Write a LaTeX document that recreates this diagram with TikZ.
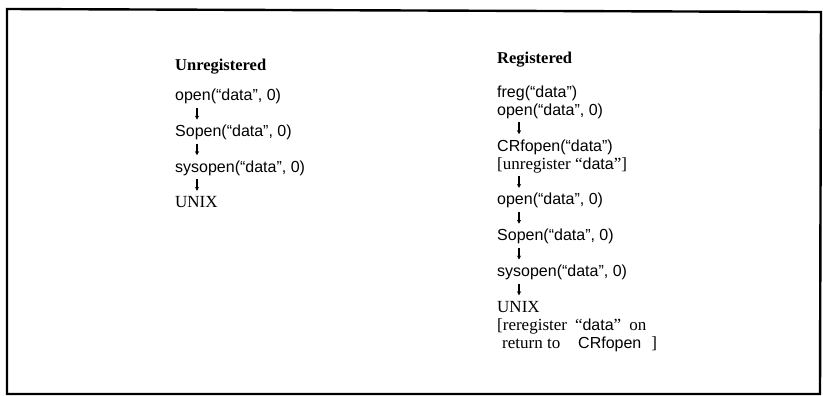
\documentclass[tikz,border=0pt]{standalone}
\usepackage{fontspec}
\setmainfont{Liberation Serif}
\setsansfont{Liberation Sans}
\usetikzlibrary{arrows.meta}
\newcommand{\sfname}[1]{{\sffamily\fontsize{16}{18}\selectfont #1}}
\begin{document}
\begin{tikzpicture}[x=1pt,y=-1pt,
  code/.style={anchor=base west, inner sep=0pt, font=\sffamily\fontsize{16}{18}\selectfont},
  prose/.style={anchor=base west, inner sep=0pt, font=\rmfamily\fontsize{17}{19}\selectfont},
  head/.style={anchor=base west, inner sep=0pt, font=\rmfamily\bfseries\fontsize{16.5}{19}\selectfont},
  flow/.style={line width=1.1pt, -{Stealth[length=4pt,width=4.2pt]}},
  frame/.style={line width=2.4pt, line join=miter}]
\useasboundingbox (0,0) rectangle (823,396);
\draw[frame] (7,9) -- (821,12) -- (820,394) -- (7,394) -- cycle;

% Unregistered column
\node[head] (uh) at (175,71) {Unregistered};
\node[code] (l1) at (175,101) {open(“data”, 0)};
\node[code] (l2) at (175,136.6) {Sopen(“data”, 0)};
\node[code] (l3) at (175,172.2) {sysopen(“data”, 0)};
\node[prose] (l4) at (175,207.8) {UNIX};
\draw[flow] ([shift={(22,7)}]l1.base west) -- ([shift={(22,-17)}]l2.base west);
\draw[flow] ([shift={(22,7)}]l2.base west) -- ([shift={(22,-17)}]l3.base west);
\draw[flow] ([shift={(22,7)}]l3.base west) -- ([shift={(22,-17)}]l4.base west);

% Registered column
\node[head] (rh) at (497,64) {Registered};
\node[code] (r1) at (497,97.5) {freg(“data”)};
\node[code] (r2) at (497,115.4) {open(“data”, 0)};
\node[code] (r3) at (497,151.2) {CRfopen(“data”)};
\node[prose] (r4) at (497,169.1) {[unregister “\sfname{data}”]};
\node[code] (r5) at (497,204.9) {open(“data”, 0)};
\node[code] (r6) at (497,240.7) {Sopen(“data”, 0)};
\node[code] (r7) at (497,276.5) {sysopen(“data”, 0)};
\node[prose] (r8) at (497,312.3) {UNIX};
\node[prose] (r9) at (497,330.2) {[reregister\hspace{8pt}“\sfname{data}”\hspace{8pt}on};
\node[prose] (r10) at (502,348.1) {\makebox[76pt][l]{return to}\sfname{CRfopen}\hspace{10pt}]};
\draw[flow] ([shift={(22,7)}]r2.base west) -- ([shift={(22,-17)}]r3.base west);
\draw[flow] ([shift={(22,7)}]r4.base west) -- ([shift={(22,-17)}]r5.base west);
\draw[flow] ([shift={(22,7)}]r5.base west) -- ([shift={(22,-17)}]r6.base west);
\draw[flow] ([shift={(22,7)}]r6.base west) -- ([shift={(22,-17)}]r7.base west);
\draw[flow] ([shift={(22,7)}]r7.base west) -- ([shift={(22,-17)}]r8.base west);
\end{tikzpicture}
\end{document}
